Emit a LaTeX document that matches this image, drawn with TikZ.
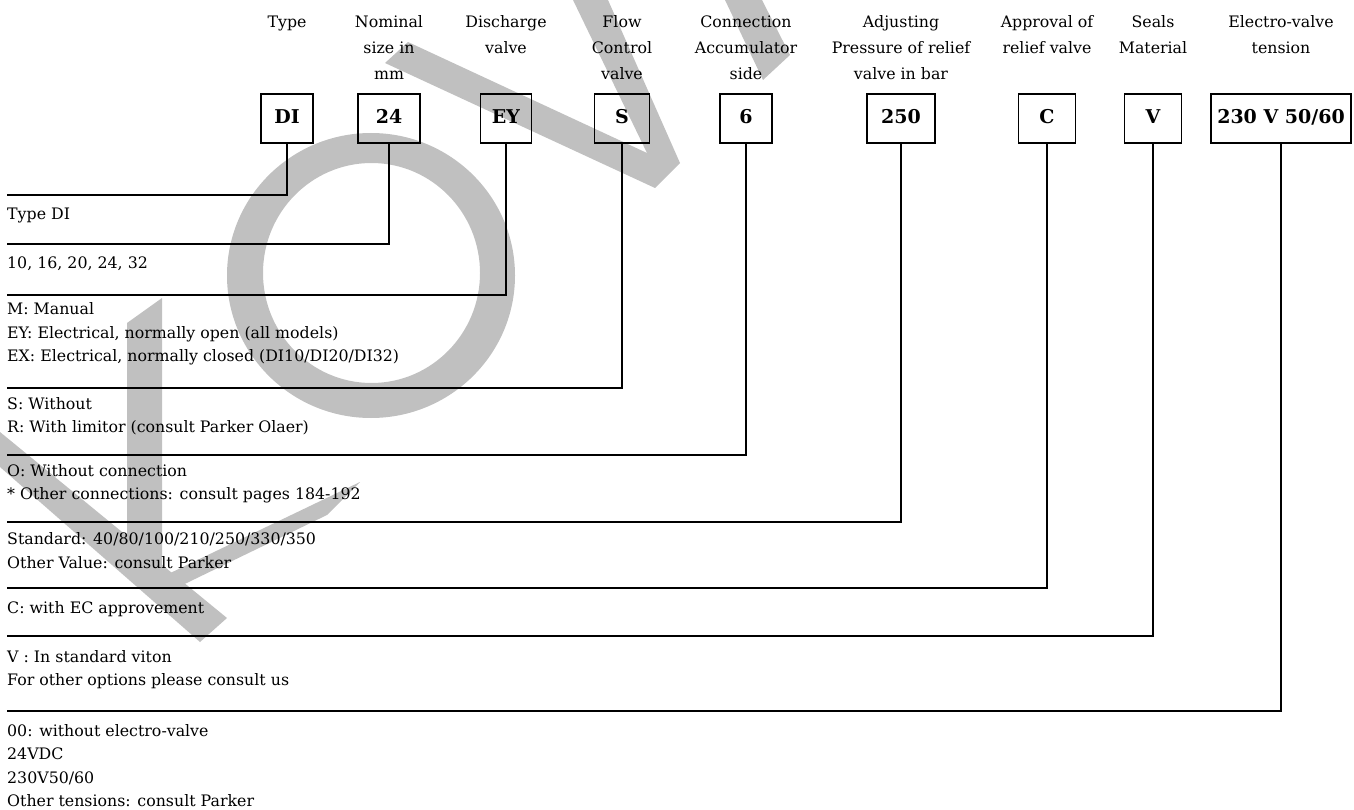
\documentclass[tikz,border=0pt]{standalone}
\usepackage{fontspec}
\setmainfont{DejaVu Serif}
\definecolor{wmark}{RGB}{192,192,192}

\tikzset{
  codebox/.style={draw, line width=1.4pt, minimum height=49pt, inner xsep=3pt, inner ysep=0pt,
    text height=17pt, text depth=6pt, font=\fontsize{19}{24}\selectfont\bfseries},
  headtxt/.style={align=center, anchor=north, inner sep=0pt, font=\fontsize{15.8}{26}\selectfont},
  desctxt/.style={align=left, anchor=north west, inner sep=0pt, font=\fontsize{15.8}{23.4}\selectfont},
  lead/.style={line width=2.8pt},
}

\begin{document}
\begin{tikzpicture}[x=1pt, y=-1pt]
        \useasboundingbox (0,0) rectangle (1354,810);
        % watermark
        \fill[wmark, even odd rule] (371,275.5) ellipse [x radius=144, y radius=142.5]
             (371.5,273) ellipse [x radius=108.5, y radius=110];
        \fill[wmark] (408,42) -- (647,153) -- (573,0) -- (608,0) -- (680,163) -- (655,188) -- (385,63) -- cycle;
        \fill[wmark] (725,0) -- (762,0) -- (790,55) -- (763,80) -- cycle;
        \fill[wmark] (127,323) -- (162,298) -- (162,590) -- (127,560) -- cycle;
        \fill[wmark] (162,577) -- (360,482) -- (327,515) -- (162,595) -- cycle;
        \fill[wmark] (0,432) -- (227,618) -- (200,642) -- (0,467) -- cycle;
        % code boxes, headings and leads
        \foreach \cx/\bw/\ly/\code/\head [count=\i] in {
            287/52/195/DI/Type,
            389/62/244/24/{Nominal\\size in\\mm},
            506/51/295/EY/{Discharge\\valve},
            622/55/388/S/{Flow\\Control\\valve},
            746/52/455/6/{Connection\\Accumulator\\side},
            901/68/522/250/{Adjusting\\Pressure of relief\\valve in bar},
            1047/57/588/C/{Approval of\\relief valve},
            1153/57/636/V/{Seals\\Material},
            1281/140/711/{230 V 50/60}/{Electro-valve\\tension}}{
            \node[headtxt] (h\i) at (\cx,8.8) {\strut\head};
            \node[codebox, minimum width=\bw pt] (b\i) at (\cx,118.5) {\code};
            \coordinate (e\i) at (7,\ly);
            \draw[lead] (b\i.south) |- (e\i);
          }
        % descriptions
        \node[desctxt] (t1) at (7,203.2) {\strut Type DI};
        \node[desctxt] (t2) at (7,251.5) {\strut 10, 16, 20, 24, 32};
        \node[desctxt] (t3) at (7,298.2) {\strut M: Manual\\EY: Electrical, normally open (all models)\\EX: Electrical, normally closed (DI10/DI20/DI32)};
        \node[desctxt] (t4) at (7,392.5) {\strut S: Without\\R: With limitor (consult Parker Olaer)};
        \node[desctxt] (t5) at (7,459.9) {\strut O: Without connection\\* Other connections: consult pages 184-192};
        \node[desctxt] (t6) at (7,528.2) {\strut Standard: 40/80/100/210/250/330/350\\Other Value: consult Parker};
        \node[desctxt] (t7) at (7,597.2) {\strut C: with EC approvement};
        \node[desctxt] (t8) at (7,645.9) {\strut V : In standard viton\\For other options please consult us};
        \node[desctxt] (t9) at (7,719.9) {\strut 00: without electro-valve\\24VDC\\230V50/60\\Other tensions: consult Parker};
      \end{tikzpicture}
\end{document}
